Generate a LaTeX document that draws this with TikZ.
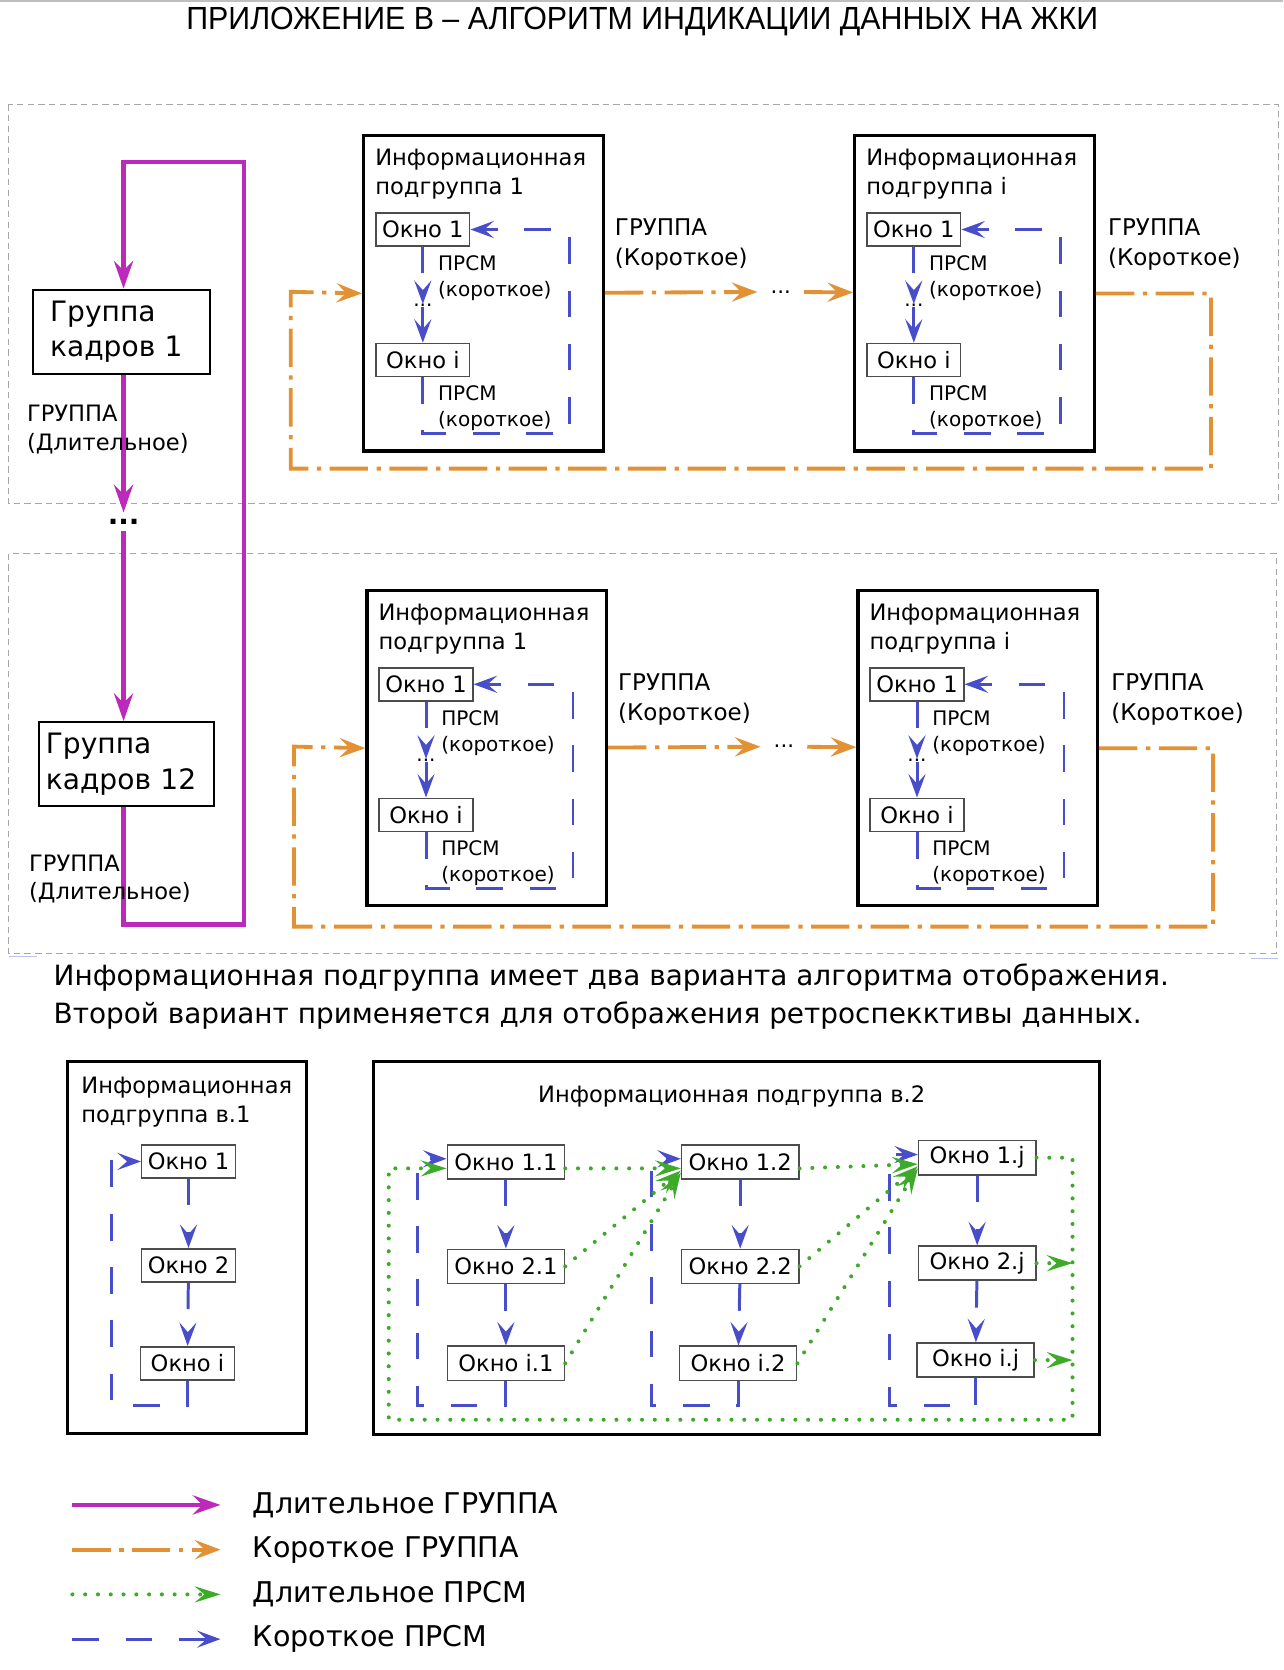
\documentclass[tikz,border=0pt]{standalone}
\usepackage{fontspec}
\setmainfont{DejaVu Sans}
\newfontfamily\titlefont{Liberation Sans}
\usepackage{graphicx}
\usetikzlibrary{arrows.meta,positioning}
\definecolor{dlitcol}{RGB}{188,42,188}
\definecolor{krcol}{RGB}{226,146,52}
\definecolor{prsmcol}{RGB}{72,78,202}
\definecolor{dprsmcol}{RGB}{62,170,42}
\tikzset{
  frame/.style={draw=black!35, line width=0.4pt, dash pattern=on 3pt off 2pt},
  dlit/.style={draw=dlitcol, line width=2pt, -{Stealth[length=13pt,width=9pt,inset=4.5pt]}},
  krgr/.style={draw=krcol, line width=1.8pt, dash pattern=on 18pt off 4pt on 2pt off 4pt,
    -{Stealth[length=12pt,width=9pt,inset=4.5pt]}},
  prsm/.style={draw=prsmcol, line width=1.4pt, dash pattern=on 12.5pt off 12.5pt,
    -{Stealth[length=11pt,width=8pt,inset=4.5pt]}},
  dprsm/.style={draw=dprsmcol, line width=1.9pt, line cap=round, dash pattern=on 0pt off 6pt,
    -{Stealth[length=12pt,width=7.5pt,inset=4.5pt]}},
  infobox/.style={draw, line width=1.5pt, minimum width=112.5pt, minimum height=148pt},
  infotitle/.style={anchor=north west, inner sep=0pt, align=left, font=\fontsize{10.6}{13.5}\selectfont},
  okno/.style={draw=black!70, line width=0.7pt, minimum width=44pt, minimum height=15.5pt,
    inner sep=1pt, font=\fontsize{10.6}{12}\selectfont},
  oknob/.style={okno, minimum width=55pt, minimum height=16pt},
  prsmtext/.style={anchor=north west, inner sep=0pt, align=left, font=\fontsize{9.4}{12}\selectfont},
  grtext/.style={anchor=north west, inner sep=0pt, align=left, font=\fontsize{10.8}{14}\selectfont},
  dltext/.style={anchor=north west, inner sep=0pt, align=left, font=\fontsize{10.6}{13.5}\selectfont},
  grbox/.style={draw, line width=1pt, minimum height=39.5pt, align=left, font=\fontsize{13.2}{16.5}\selectfont},
  legtext/.style={anchor=west, inner sep=0pt, font=\fontsize{13.4}{16}\selectfont}
}
% one information subgroup: name, x, y (top left), number
\newcommand{\infosub}[4]{%
  \begin{scope}[shift={(#2,#3)}]
    \node[infobox, anchor=north west] (#1) at (0,0) {};
    \node[infotitle] (#1t) at (12,14) {Информационная\\подгруппа #4};
    \node[okno] (#1a) at (57,89.5) {Окно 1};
    \node[okno] (#1b) at (57,212) {Окно i};
    \node[inner sep=0pt, font=\fontsize{9.4}{10}\selectfont] (#1d) at (57,161) {...};
    \node[prsmtext] (#1p) at (71,114) {ПРСМ\\(короткое)};
    \node[prsmtext] (#1q) at (71,236) {ПРСМ\\(короткое)};
    \coordinate (#1r) at (195,281);
    \draw[prsm] (#1a) -- (#1d);
    \draw[prsm] (#1d) -- (#1b);
    \draw[prsm] (#1b.south) |- (#1r) |- (#1a.east);
  \end{scope}}

\begin{document}
\begin{tikzpicture}[x=0.5pt,y=-0.5pt]
    \useasboundingbox (0,0) rectangle (1205,1568);
    \draw[black!25, line width=0.6pt] (0,1) -- (1205,1);

    \node[anchor=base, inner sep=0pt] (title) at (603,28)
      {\resizebox{428pt}{10.5pt}{\titlefont ПРИЛОЖЕНИЕ В – АЛГОРИТМ ИНДИКАЦИИ ДАННЫХ НА ЖКИ}};

    % dashed frames of the two groups
    \draw[frame] (8,98) rectangle (1200,473);
    \draw[frame] (8,520) rectangle (1198,895);
    \draw[prsmcol!35, line width=0.8pt] (8,898) -- (35,898);
    \draw[prsmcol!35, line width=0.8pt] (1175,900) -- (1200,900);

    % frame groups
    \node[grbox, text width=67pt, inner xsep=8pt] (grp1) at (114,311.5) {Группа\\кадров 1};
    \node[grbox, text width=76pt, inner xsep=3pt] (grp12) at (119,717.5) {Группа\\кадров 12};
    \node[inner sep=0pt, inner ysep=3pt, font=\bfseries\fontsize{13}{14}\selectfont] (gdots) at (116,490) {...};
    \coordinate (lb) at (229,868);
    \coordinate (lt) at (229,152);
    \draw[dlit] (grp1.south -| gdots) -- (gdots);
    \draw[dlit] (gdots) -- (gdots |- grp12.north);
    \draw[dlit] (grp12.south -| gdots) |- (lb) -- (lt) -| (grp1.north -| gdots);
    \node[dltext] (dl1) at (25,380) {ГРУППА\\(Длительное)};
    \node[dltext] (dl2) at (27,802) {ГРУППА\\(Длительное)};

    % upper row
    \infosub{au}{340}{126}{1}
    \infosub{bu}{801}{126}{i}
    \node[inner sep=0pt, inner xsep=6pt] (mu) at (733,274) {...};
    \draw[krgr] (au) -- (mu);
    \draw[krgr] (mu) -- (bu);
    \coordinate (ou1) at (1137,440);
    \coordinate (ou2) at (273,274);
    \draw[krgr] (bu.east) -| (ou1) -| (ou2) -- (au.west);
    \node[grtext] (ku1) at (577,205) {ГРУППА\\(Короткое)};
    \node[grtext] (ku2) at (1040,205) {ГРУППА\\(Короткое)};

    % lower row
    \infosub{al}{343}{553}{1}
    \infosub{bl}{804}{553}{i}
    \node[inner sep=0pt, inner xsep=6pt] (ml) at (736,701) {...};
    \draw[krgr] (al) -- (ml);
    \draw[krgr] (ml) -- (bl);
    \coordinate (ol1) at (1139,870);
    \coordinate (ol2) at (276,701);
    \draw[krgr] (bl.east) -| (ol1) -| (ol2) -- (al.west);
    \node[grtext] (kl1) at (580,632) {ГРУППА\\(Короткое)};
    \node[grtext] (kl2) at (1043,632) {ГРУППА\\(Короткое)};

    \node[anchor=north west, inner sep=0pt, align=left, font=\fontsize{13.1}{17.5}\selectfont] (note) at (50,905)
      {Информационная подгруппа имеет два варианта алгоритма отображения.\\
       Второй вариант применяется для отображения ретроспекктивы данных.};

    % variant 1
    \node[draw, line width=1.5pt, minimum width=112.5pt, minimum height=174.5pt] (va) at (175.5,1171.5) {};
    \node[infotitle] (vat) at (76,1011) {Информационная\\подгруппа в.1};
    \node[okno] (v1) at (177,1090.5) {Окно 1};
    \node[okno] (v2) at (177,1188) {Окно 2};
    \node[okno] (v3) at (176,1280) {Окно i};
    \coordinate (b0) at (105,1320);
    \draw[prsm] (v1) -- (v2);
    \draw[prsm] (v2) -- (v3);
    \draw[prsm] (v3.south) |- (b0) |- (v1.west);

    % variant 2
    \node[draw, line width=1.5pt, minimum width=340.5pt, minimum height=175pt] (vb) at (691.5,1172) {};
    \node[anchor=base, inner sep=0pt, font=\fontsize{10.6}{13.5}\selectfont] (vbt) at (687,1035) {Информационная подгруппа в.2};
    \node[oknob] (w11) at (475,1091) {Окно 1.1};
    \node[oknob] (w21) at (475,1189) {Окно 2.1};
    \node[oknob] (wi1) at (475,1280) {Окно i.1};
    \node[oknob] (w12) at (695,1091) {Окно 1.2};
    \node[oknob] (w22) at (695,1189) {Окно 2.2};
    \node[oknob] (wi2) at (693,1280) {Окно i.2};
    \node[oknob] (w1j) at (917.5,1087) {Окно 1.j};
    \node[oknob] (w2j) at (917.5,1186) {Окно 2.j};
    \node[oknob] (wij) at (916,1277) {Окно i.j};
    \foreach \c/\x in {1/392,2/612,j/835}
    {
        \coordinate (b\c) at (\x,1320);
        \draw[prsm] (w1\c) -- (w2\c);
        \draw[prsm] (w2\c) -- (wi\c);
        \draw[prsm] (wi\c.south) |- (b\c) |- ([yshift=1.5pt]w1\c.west);
    }
    \coordinate (g1) at (1007,1333);
    \coordinate (g2) at (365,1097);
    \draw[dprsm] (w1j.east) -| (g1) -| (g2) -- ([yshift=-3pt]w11.west);
    \draw[dprsm] ([yshift=-3pt]w11.east) -- ([yshift=-3pt]w12.west);
    \draw[dprsm] (w21.east) -- ([yshift=-4pt]w12.west);
    \draw[dprsm] (wi1.east) -- ([yshift=-5pt]w12.west);
    \draw[dprsm] ([yshift=-3pt]w12.east) -- ([yshift=-3pt]w1j.west);
    \draw[dprsm] (w22.east) -- ([yshift=-4pt]w1j.west);
    \draw[dprsm] (wi2.east) -- ([yshift=-5pt]w1j.west);
    \draw[dprsm] (w2j.east) -- (w2j.east -| g1);
    \draw[dprsm] (wij.east) -- (wij.east -| g1);

    % legend
    \foreach \sty/\txt [count=\k] in {dlit/Длительное ГРУППА, krgr/Короткое ГРУППА, dprsm/Длительное ПРСМ, prsm/Короткое ПРСМ}
    {
        \coordinate (la\k) at (68,1371+42*\k);
        \coordinate (lb\k) at (207,1371+42*\k);
        \draw[\sty] (la\k) -- (lb\k);
        \node[legtext] (lt\k) at (237,1371+42*\k) {\txt};
    }
\end{tikzpicture}
\end{document}
